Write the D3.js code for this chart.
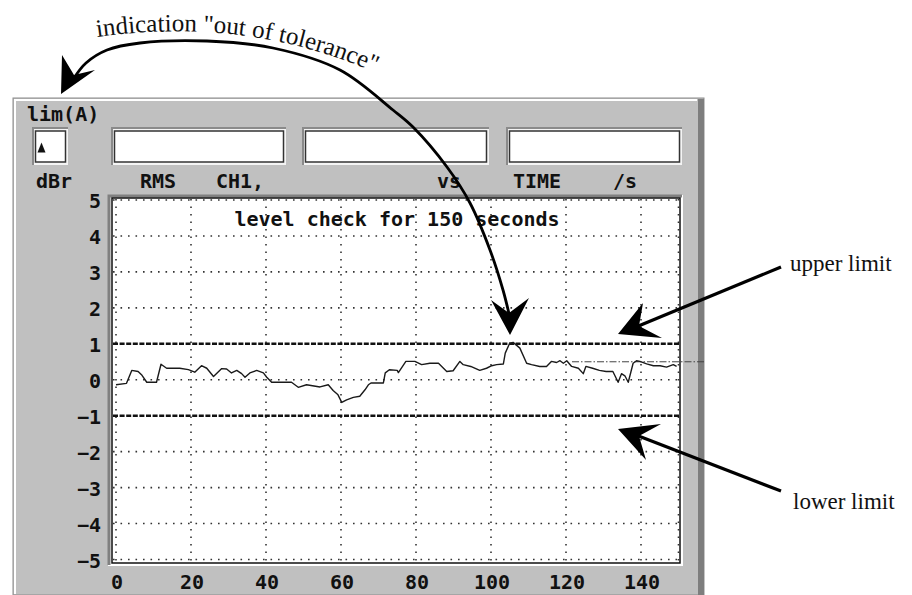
<!DOCTYPE html>
<html>
<head>
  <meta charset="utf-8" />
  <title>level check</title>
  <style>
    body { margin: 0; background: #fff; }
    svg { display: block; }
    .mono { font-family: "DejaVu Sans Mono", "Liberation Mono", monospace; font-weight: bold; font-size: 20px; fill: #111; }
    .serif { font-family: "Liberation Serif", "DejaVu Serif", serif; font-size: 23px; fill: #111; }
  </style>
</head>
<body>
  <script src="https://cdn.jsdelivr.net/npm/d3@7/dist/d3.min.js"></script>
  <script>

    // measured level (dBr) against time (s)
    var times = [0, 2.8, 4.2, 5.9, 6.8, 8.2, 10.8, 12, 13.5, 17, 19.3, 21, 22.8, 24.2, 26, 28.2, 29.5, 30.8,
      32.2, 33.5, 34.4, 35.7, 37.5, 39.3, 40.2, 41.5, 46.8, 48.6, 50.8, 54.4, 56.6, 57.9, 59.2, 60.2,
      61.5, 63.3, 65, 66.4, 67.3, 68, 71.3, 71.8, 72.9, 75, 75.3, 77.3, 79.7, 81.5, 83.7, 86, 88.2,
      89.9, 91.7, 92.6, 94.6, 97, 98.8, 100.2, 101.5, 103.3, 103.8, 105, 105.9, 107.7, 109.5, 110.8,
      113, 114.8, 116.1, 117.5, 118.4, 119.3, 120.2, 121.5, 123.3, 124.6, 125.3, 127.1, 128.9, 130.7,
      132.5, 133.9, 134.8, 135.7, 136.6, 137.9, 138.8, 139.7, 141.5, 143.3, 145.1, 146.8, 148.6, 149.5]
    var levels = [-0.14, -0.1, 0.26, 0.23, 0.14, -0.07, -0.07, 0.43, 0.32, 0.32, 0.28, 0.21, 0.39, 0.32, 0.09, 0.31, 0.3, 0.19,
      0.26, 0.17, 0.07, 0.19, 0.26, 0.19, 0.07, -0.07, -0.07, -0.21, -0.14, -0.2, -0.14, -0.3, -0.42, -0.63,
      -0.56, -0.49, -0.46, -0.28, -0.14, -0.09, -0.09, 0.19, 0.28, 0.26, 0.2, 0.51, 0.51, 0.42, 0.46, 0.46, 0.23,
      0.25, 0.51, 0.42, 0.37, 0.26, 0.32, 0.39, 0.42, 0.44, 0.74, 1.02, 1.04, 0.88, 0.46, 0.42,
      0.37, 0.37, 0.51, 0.48, 0.53, 0.46, 0.53, 0.37, 0.32, 0.17, 0.37, 0.32, 0.26, 0.23,
      0.23, -0.07, 0.17, 0.11, -0.07, 0.46, 0.53, 0.51, 0.44, 0.39, 0.39, 0.35, 0.42, 0.37]

    var limits = [1, -1]
    var refLevel = 0.5, refFrom = 121.6, refTo = 157

    var xTicks = [0, 20, 40, 60, 80, 100, 120, 140]
    var xGrid = [0, 20, 40, 60, 80, 100, 120, 140, 150]
    var yTicks = [5, 4, 3, 2, 1, 0, -1, -2, -3, -4, -5]
    var yGrid = [5, 4, 3, 2, 0, -2, -3, -4, -5]

    var title = 'level check for 150 seconds'
    var headerLabels = [['dBr', 36], ['RMS', 140], ['CH1,', 216], ['vs', 437], ['TIME', 513], ['/s', 613]]
    var fields = [[33, 68], [112, 286], [303, 489], [507, 682]]

    var svg = d3.select('body').append('svg').attr('width', 912).attr('height', 595)

    var x = d3.scaleLinear().domain([0, 150]).range([116, 678.5])
    var y = d3.scaleLinear().domain([-5, 5]).range([559.5, 200])

    drawPanel()
    drawPlot()
    drawNotes()

    function drawPanel() {
      svg.append('rect').attr('x', 13).attr('y', 98).attr('width', 691).attr('height', 497)
        .attr('fill', '#c0c0c0').attr('stroke', '#8c8c8c')
      svg.append('path').attr('d', 'M15,594V100H697').attr('fill', 'none').attr('stroke', '#fff').attr('stroke-width', 2)
      svg.append('rect').attr('x', 698).attr('y', 99).attr('width', 6).attr('height', 496).attr('fill', '#7e7e7e')

      svg.append('text').attr('class', 'mono').attr('x', 27).attr('y', 121).text('lim(A)')

      // sunken input fields
      fields.forEach(function (f) {
        svg.append('rect').attr('x', f[0]).attr('y', 128).attr('width', f[1] - f[0]).attr('height', 37).attr('fill', '#f4f4f4')
        svg.append('path').attr('d', 'M' + f[0] + ',165V128H' + f[1]).attr('fill', 'none').attr('stroke', '#8a8a8a').attr('stroke-width', 2)
        svg.append('rect').attr('x', f[0] + 2.5).attr('y', 131).attr('width', f[1] - f[0] - 5).attr('height', 31)
          .attr('fill', '#fff').attr('stroke', '#333').attr('stroke-width', 1.5)
      })
      svg.append('path').attr('d', 'M37.5,152.5L41.5,142.5L45.5,152.5Z').attr('fill', '#111')

      svg.selectAll('.hdr').data(headerLabels).enter().append('text')
        .attr('class', 'mono hdr').attr('x', function (d) { return d[1] }).attr('y', 188)
        .text(function (d) { return d[0] })
    }

    function drawPlot() {
      var left = 112, right = 680, top = 198, bottom = 563
      // sunken frame
      svg.append('rect').attr('x', left - 4).attr('y', top - 3).attr('width', right - left + 7).attr('height', bottom - top + 6).attr('fill', '#fff')
      svg.append('path').attr('d', 'M' + (left - 3) + ',' + (bottom + 2) + 'V' + (top - 2) + 'H' + (right + 2))
        .attr('fill', 'none').attr('stroke', '#808080').attr('stroke-width', 3)
      svg.append('rect').attr('x', left).attr('y', top).attr('width', right - left).attr('height', bottom - top)
        .attr('fill', '#fff').attr('stroke', '#111').attr('stroke-width', 1.5)

      // dotted grid
      var grid = svg.append('g').attr('fill', 'none').attr('stroke', '#333').attr('stroke-width', 1.6).attr('stroke-dasharray', '1.6,5.9')
      grid.selectAll('.gx').data(xGrid).enter().append('line')
        .attr('x1', function (d) { return x(d) }).attr('x2', function (d) { return x(d) })
        .attr('y1', top + 1).attr('y2', bottom - 1)
      grid.selectAll('.gy').data(yGrid).enter().append('line')
        .attr('y1', function (d) { return y(d) }).attr('y2', function (d) { return y(d) })
        .attr('x1', left + 1).attr('x2', right - 1)

      // limit lines
      svg.selectAll('.lim').data(limits).enter().append('line')
        .attr('x1', left + 1).attr('x2', right - 1)
        .attr('y1', function (d) { return y(d) }).attr('y2', function (d) { return y(d) })
        .attr('stroke', '#111').attr('stroke-width', 2.6).attr('stroke-dasharray', '5,1.6')

      // reference dash-dot line
      svg.append('line').attr('x1', x(refFrom)).attr('x2', x(refTo)).attr('y1', y(refLevel)).attr('y2', y(refLevel))
        .attr('stroke', '#444').attr('stroke-width', 1).attr('stroke-dasharray', '7,2,1.5,2')

      // measured curve
      var line = d3.line().x(function (d) { return x(d[0]) }).y(function (d) { return y(d[1]) })
      svg.append('path').datum(d3.zip(times, levels)).attr('d', line)
        .attr('fill', 'none').attr('stroke', '#1a1a1a').attr('stroke-width', 1.4).attr('stroke-linejoin', 'round')

      svg.append('text').attr('class', 'mono').attr('x', 397).attr('y', 226).attr('text-anchor', 'middle').text(title)

      // axes (labels only)
      var ax = svg.append('g').attr('transform', 'translate(0,' + 589 + ')')
      ax.selectAll('text').data(xTicks).enter().append('text').attr('class', 'mono')
        .attr('x', function (d) { return x(d) + 1 }).attr('text-anchor', 'middle').text(function (d) { return d })
      var ay = svg.append('g')
      ay.selectAll('text').data(yTicks).enter().append('text').attr('class', 'mono')
        .attr('x', 101).attr('y', function (d) { return y(d) + 8 }).attr('text-anchor', 'end')
        .text(d3.format('d'))
    }

    function drawNotes() {
      var g = svg.append('g')
      // curved "out of tolerance" arrow
      var arcPts = [[510, 318], [503, 290], [490, 250], [470, 203], [447, 167], [413, 127], [393, 110], [340, 70],
        [273, 48], [207, 41], [140, 43], [107, 50], [86, 63], [74, 78]]
      g.append('path').attr('d', d3.line().curve(d3.curveCatmullRom)(arcPts))
        .attr('fill', 'none').attr('stroke', '#000').attr('stroke-width', 2.8)
      var heads = [
        [[510, 335], [491, 300], [509, 313], [529, 298]],
        [[61, 94], [62, 55], [74, 75], [95, 70]],
        [[618, 334], [643, 303], [639, 326], [662, 338]],
        [[618, 429], [661, 424], [639, 436], [646, 460]]
      ]
      g.selectAll('.head').data(heads).enter().append('path')
        .attr('d', function (d) { return 'M' + d.join('L') + 'Z' }).attr('fill', '#000')
      g.append('line').attr('x1', 636).attr('y1', 327).attr('x2', 781).attr('y2', 267).attr('stroke', '#000').attr('stroke-width', 3.2)
      g.append('line').attr('x1', 636).attr('y1', 435).attr('x2', 781).attr('y2', 491).attr('stroke', '#000').attr('stroke-width', 3.2)

      g.append('text').attr('class', 'serif').attr('x', 790).attr('y', 271).text('upper limit')
      g.append('text').attr('class', 'serif').attr('x', 793).attr('y', 509).text('lower limit')

      svg.append('defs').append('path').attr('id', 'arcText').attr('d', 'M97,37 C190,24 300,30 410,90')
      g.append('text').attr('class', 'serif').style('font-size', '25px').append('textPath').attr('href', '#arcText')
        .text('indication "out of tolerance"')
    }

  </script>
</body>
</html>
